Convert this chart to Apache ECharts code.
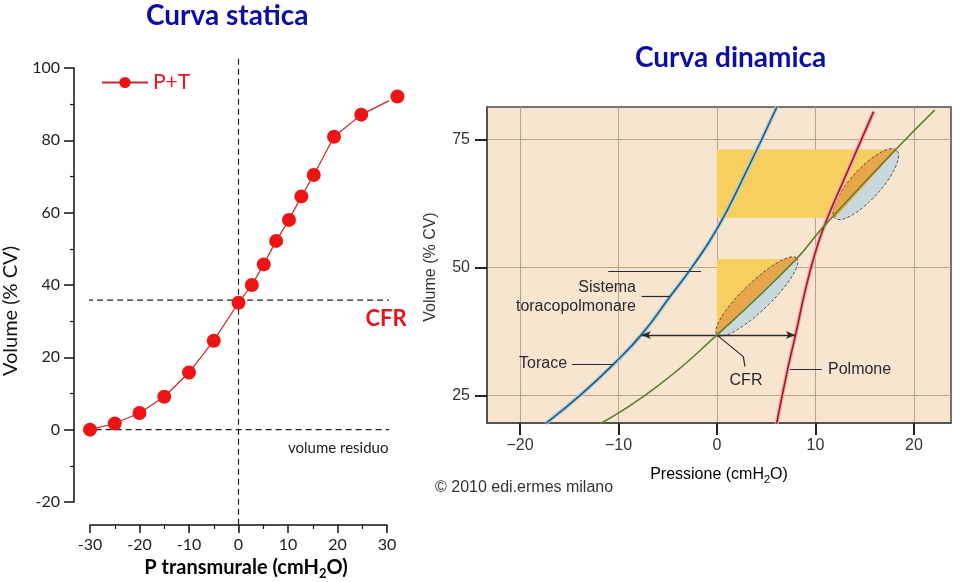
<!DOCTYPE html>
<html>
<head>
<meta charset="utf-8">
<script src="https://cdn.jsdelivr.net/npm/echarts@6/dist/echarts.min.js"></script>
<style>
html, body { margin: 0; padding: 0; background: #fff; }
#chart { width: 960px; height: 582px; }
</style>
</head>
<body>
<div id="chart"></div>
<script>
// --- curva statica (P transmurale, cmH2O -> volume, % CV)
const staticPressure = [-30, -25, -20, -15, -10, -5, 0, 2.7, 5.1, 7.6, 10.2, 12.7, 15.2, 19.3, 24.8, 32.1];
const staticVolume = [0, 1.7, 4.6, 9.1, 15.8, 24.6, 35.1, 40, 45.7, 52.2, 58, 64.5, 70.4, 81, 87.1, 92.1];
const cfrVolume = 35.8;
const cfrSpan = [-32.6, 32.1];
const residualSpan = [-32.9, 31.7];
const zeroPressureSpan = [-26.3, 103.3];

// --- curva dinamica
const pressureTicks = [-20, -10, 0, 10, 20];
const volumeTicks = [25, 50, 75];
const toracePts = [[-17.4, 19.5], [-13.9, 25], [-10.5, 31.1], [-7.6, 37], [-4.8, 44.2], [-2.7, 49.6], [0, 57.5], [2.8, 68], [6.1, 81.4]];
const sistemaPts = [[-11.9, 19.4], [-6.1, 26.7], [0, 36.8], [7.9, 51.3], [10.8, 57.9], [18.1, 72.9], [22.1, 80.7]];
const polmonePts = [[6.06, 19.5], [7.2, 30.3], [8.0, 37], [9.0, 45.8], [10, 53], [11, 58.6], [13, 67.6], [15.9, 80.4]];
// yellow work areas (polygon corners)
const yellowBands = [
  [[0, 59.7], [11.98, 59.7], [17.2, 73], [0, 73]],
  [[0, 36.8], [0, 51.6], [7.4, 51.6]]
];
// ellipse main axis ends: [x1, y1, x2, y2]
const ellipses = [[0, 36.8, 8.1, 51.8], [11.98, 59.6, 18.24, 72.9]];
const ellipseHalfWidth = [14, 15];
const leaderLines = [
  [[-7.64, 44.26], [-4.77, 44.26]],
  [[-11.04, 49.14], [-1.62, 49.14]],
  [[-14.72, 31.13], [-10.56, 31.13]],
  [[-0.03, 36.8], [2.67, 32.56]],
  [[2.67, 32.56], [2.84, 30.6]],
  [[7.41, 30.06], [10.63, 30.06]]
];
const cfrArrow = [[-7.64, 36.8], [7.92, 36.8]];

const LEFT_FONT = 'Lato, "Open Sans", sans-serif';
const RIGHT_FONT = '"Liberation Sans", Arial, sans-serif';

const chart = echarts.init(document.getElementById('chart'));

function toLine(a, b) {
  return a.map((v, i) => [v, b[i]]);
}
function minusSign(v) {
  return v < 0 ? '\u2212' + (-v) : String(v);
}

const dash = { type: [6, 4], color: '#222', width: 1.2 };
const frame = { color: '#222', width: 2 };

const option = {
  animation: false,
  title: [
    {
      text: 'Curva statica', left: 146, top: 2, padding: 0,
      textStyle: { color: '#0d0da6', fontSize: 28, fontWeight: 'bold', fontFamily: LEFT_FONT }
    },
    {
      text: 'Curva dinamica', left: 635, top: 44, padding: 0,
      textStyle: { color: '#0d0da6', fontSize: 28, fontWeight: 'bold', fontFamily: LEFT_FONT }
    }
  ],
  legend: {
    data: ['P+T'], left: 101, top: 72, padding: 0,
    itemWidth: 46, itemHeight: 14, selectedMode: false,
    textStyle: { color: '#e8141e', fontSize: 21, fontFamily: LEFT_FONT }
  },
  grid: [
    { left: 90, top: 68, width: 297, height: 434, outerBoundsMode: 'none' },
    {
      left: 487, top: 107, width: 464, height: 316, outerBoundsMode: 'none',
      show: true, backgroundColor: '#f8e5cf', borderColor: '#4a4a4a', borderWidth: 1.5
    }
  ],
  xAxis: [
    {
      gridIndex: 0, type: 'value', min: -30, max: 30, interval: 10, offset: 23,
      axisLine: { show: true, onZero: false, lineStyle: { color: '#111', width: 1.5 } },
      axisTick: { show: true, length: 8, lineStyle: { color: '#111', width: 1.5 } },
      minorTick: { show: true, splitNumber: 2, length: 4, lineStyle: { color: '#111', width: 1.2 } },
      axisLabel: { fontSize: 16, color: '#222', fontFamily: LEFT_FONT, margin: 12 },
      splitLine: { show: false }
    },
    {
      gridIndex: 1, type: 'value', min: -23.35, max: 23.76, position: 'bottom',
      axisLine: { show: true, onZero: false, lineStyle: { color: '#4a4a4a', width: 1.5 } },
      axisTick: { show: true, inside: false, customValues: pressureTicks, length: 12, lineStyle: frame },
      axisLabel: { customValues: pressureTicks, formatter: minusSign, fontSize: 16, color: '#333', fontFamily: RIGHT_FONT, margin: 15 },
      splitLine: { show: true, lineStyle: { color: '#b3a48f', width: 1 } }
    }
  ],
  yAxis: [
    {
      gridIndex: 0, type: 'value', min: -20, max: 100, interval: 20, offset: 16,
      axisLine: { show: true, onZero: false, lineStyle: { color: '#111', width: 1.5 } },
      axisTick: { show: true, length: 10, lineStyle: { color: '#111', width: 1.5 } },
      minorTick: { show: true, splitNumber: 2, length: 4, lineStyle: { color: '#111', width: 1.2 } },
      axisLabel: { fontSize: 16, color: '#222', fontFamily: LEFT_FONT, margin: 14 },
      splitLine: { show: false }
    },
    {
      gridIndex: 1, type: 'value', min: 19.6, max: 81.3, position: 'left',
      axisLine: { show: true, onZero: false, lineStyle: { color: '#4a4a4a', width: 1.5 } },
      axisTick: { show: true, inside: false, customValues: volumeTicks, length: 12, lineStyle: frame },
      axisLabel: { customValues: volumeTicks, fontSize: 16, color: '#333', fontFamily: RIGHT_FONT, margin: 17 },
      splitLine: { show: true, lineStyle: { color: '#b3a48f', width: 1 } }
    }
  ],
  graphic: [
    {
      type: 'text', x: 11, y: 311, rotation: Math.PI / 2,
      style: { text: 'Volume (% CV)', align: 'center', verticalAlign: 'middle', font: '20px ' + LEFT_FONT, fill: '#111' }
    },
    {
      type: 'text', x: 246, y: 568,
      style: {
        text: '{b|P transmurale (cmH}{s|2}{b|O)}', align: 'center', verticalAlign: 'middle',
        rich: {
          b: { fontSize: 20, fontWeight: 'bold', fontFamily: LEFT_FONT, color: '#111', lineHeight: 24 },
          s: { fontSize: 13, fontWeight: 'bold', fontFamily: LEFT_FONT, color: '#111', lineHeight: 12, verticalAlign: 'bottom' }
        }
      }
    },
    {
      type: 'text', x: 386, y: 319,
      style: { text: 'CFR', align: 'center', verticalAlign: 'middle', font: 'bold 22px ' + LEFT_FONT, fill: '#e2141c' }
    },
    {
      type: 'text', x: 288, y: 448,
      style: { text: 'volume residuo', align: 'left', verticalAlign: 'middle', font: '15px ' + LEFT_FONT, fill: '#222' }
    },
    {
      type: 'text', x: 431, y: 267, rotation: Math.PI / 2,
      style: { text: 'Volume (% CV)', align: 'center', verticalAlign: 'middle', font: '16px ' + RIGHT_FONT, fill: '#333' }
    },
    {
      type: 'text', x: 719, y: 475,
      style: {
        text: '{b|Pressione (cmH}{s|2}{b|O)}', align: 'center', verticalAlign: 'middle',
        rich: {
          b: { fontSize: 16, fontFamily: RIGHT_FONT, color: '#333', lineHeight: 20 },
          s: { fontSize: 11, fontFamily: RIGHT_FONT, color: '#333', lineHeight: 10, verticalAlign: 'bottom' }
        }
      }
    },
    {
      type: 'text', x: 435, y: 488,
      style: { text: '\u00a9 2010 edi.ermes milano', align: 'left', verticalAlign: 'middle', font: '16px ' + RIGHT_FONT, fill: '#333' }
    },
    {
      type: 'text', x: 636, y: 297, z: 10,
      style: { text: 'Sistema\ntoracopolmonare', align: 'right', verticalAlign: 'middle', lineHeight: 19, font: '16px ' + RIGHT_FONT, fill: '#2a2a2a' }
    },
    {
      type: 'text', x: 519, y: 364, z: 10,
      style: { text: 'Torace', align: 'left', verticalAlign: 'middle', font: '16px ' + RIGHT_FONT, fill: '#2a2a2a' }
    },
    {
      type: 'text', x: 746, y: 381, z: 10,
      style: { text: 'CFR', align: 'center', verticalAlign: 'middle', font: '16px ' + RIGHT_FONT, fill: '#2a2a2a' }
    },
    {
      type: 'text', x: 828, y: 370, z: 10,
      style: { text: 'Polmone', align: 'left', verticalAlign: 'middle', font: '16px ' + RIGHT_FONT, fill: '#2a2a2a' }
    }
  ],
  series: [
    // ---- left chart
    {
      name: 'CFR ref', type: 'line', xAxisIndex: 0, yAxisIndex: 0, clip: false, silent: true,
      symbol: 'none', lineStyle: dash,
      data: [[cfrSpan[0], cfrVolume], [cfrSpan[1], cfrVolume]]
    },
    {
      name: 'VR ref', type: 'line', xAxisIndex: 0, yAxisIndex: 0, clip: false, silent: true,
      symbol: 'none', lineStyle: dash,
      data: [[residualSpan[0], 0], [residualSpan[1], 0]]
    },
    {
      name: 'P0 ref', type: 'line', xAxisIndex: 0, yAxisIndex: 0, clip: false, silent: true,
      symbol: 'none', lineStyle: dash,
      data: [[0, zeroPressureSpan[0]], [0, zeroPressureSpan[1]]]
    },
    {
      name: 'P+T', type: 'line', xAxisIndex: 0, yAxisIndex: 0, clip: false, z: 5,
      symbol: 'circle', symbolSize: 14,
      itemStyle: { color: '#ee1414' },
      lineStyle: { color: '#c4262c', width: 1.2 },
      data: toLine(staticPressure, staticVolume)
    },
    // ---- right chart
    {
      name: 'bande', type: 'custom', xAxisIndex: 1, yAxisIndex: 1, z: 2, silent: true,
      data: yellowBands.map(b => b[0]),
      renderItem: function (params, api) {
        const pts = yellowBands[params.dataIndex].map(p => api.coord(p));
        return { type: 'polygon', shape: { points: pts }, style: { fill: '#f6cf5e' } };
      }
    },
    {
      name: 'ellissi', type: 'custom', xAxisIndex: 1, yAxisIndex: 1, z: 3, silent: true,
      data: ellipses,
      renderItem: function (params, api) {
        const p1 = api.coord([api.value(0), api.value(1)]);
        const p2 = api.coord([api.value(2), api.value(3)]);
        const dx = p2[0] - p1[0], dy = p2[1] - p1[1];
        const len = Math.sqrt(dx * dx + dy * dy);
        const a = len / 2, b = ellipseHalfWidth[params.dataIndex];
        const ux = dx / len, uy = dy / len;
        const nx = uy, ny = -ux;
        const cx = (p1[0] + p2[0]) / 2, cy = (p1[1] + p2[1]) / 2;
        const top = [], bot = [];
        for (let i = 0; i <= 48; i++) {
          const t = Math.PI * i / 48;
          const c = Math.cos(t) * a, s = Math.sin(t) * b;
          top.push([cx + c * ux + s * nx, cy + c * uy + s * ny]);
          bot.push([cx + c * ux - s * nx, cy + c * uy - s * ny]);
        }
        return {
          type: 'group',
          children: [
            { type: 'polygon', shape: { points: top }, style: { fill: '#e8a64a' } },
            { type: 'polygon', shape: { points: bot }, style: { fill: '#c8d9dd' } },
            {
              type: 'polygon', shape: { points: top.concat(bot.slice().reverse()) },
              style: { fill: null, stroke: '#4a4a4a', lineWidth: 1, lineDash: [3, 2] }
            }
          ]
        };
      }
    },
    {
      name: 'torace halo', type: 'line', xAxisIndex: 1, yAxisIndex: 1, smooth: true, z: 4, silent: true,
      symbol: 'none', lineStyle: { color: '#a9cfe0', width: 4 }, data: toracePts
    },
    {
      name: 'Torace', type: 'line', xAxisIndex: 1, yAxisIndex: 1, smooth: true, z: 5, silent: true,
      symbol: 'none', lineStyle: { color: '#25587a', width: 1.6 }, data: toracePts
    },
    {
      name: 'polmone halo', type: 'line', xAxisIndex: 1, yAxisIndex: 1, smooth: true, z: 4, silent: true,
      symbol: 'none', lineStyle: { color: '#f2a4ac', width: 4 }, data: polmonePts
    },
    {
      name: 'Polmone', type: 'line', xAxisIndex: 1, yAxisIndex: 1, smooth: true, z: 5, silent: true,
      symbol: 'none', lineStyle: { color: '#9c1c2a', width: 1.6 }, data: polmonePts
    },
    {
      name: 'Sistema toracopolmonare', type: 'line', xAxisIndex: 1, yAxisIndex: 1, smooth: true, z: 5, silent: true,
      symbol: 'none', lineStyle: { color: '#5b7f2a', width: 1.6 }, data: sistemaPts
    },
    {
      name: 'richiami', type: 'line', xAxisIndex: 1, yAxisIndex: 1, z: 6, silent: true, data: [],
      markLine: {
        silent: true, symbol: 'none', label: { show: false },
        lineStyle: { color: '#2a2a2a', width: 1.2, type: 'solid' },
        emphasis: { disabled: true },
        data: leaderLines.map(l => [{ coord: l[0] }, { coord: l[1] }])
      }
    },
    {
      name: 'freccia CFR', type: 'line', xAxisIndex: 1, yAxisIndex: 1, z: 6, silent: true, data: [],
      markLine: {
        silent: true, symbol: ['arrow', 'arrow'], symbolSize: [6, 9], label: { show: false },
        lineStyle: { color: '#2a2a2a', width: 1.3, type: 'solid' },
        emphasis: { disabled: true },
        data: [[{ coord: cfrArrow[0] }, { coord: cfrArrow[1] }]]
      }
    }
  ]
};

chart.setOption(option);
</script>
</body>
</html>
